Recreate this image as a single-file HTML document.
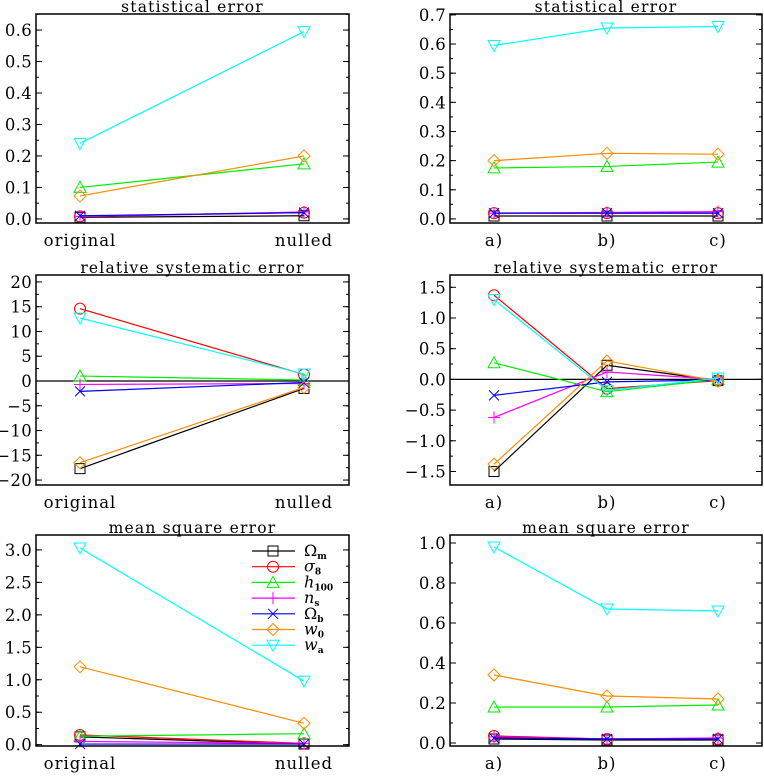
<!DOCTYPE html>
<html><head><meta charset="utf-8"><style>
body{margin:0;background:#fff;}
svg text{font-family:"DejaVu Serif","Liberation Serif",serif;fill:#000;}
</style></head><body>
<svg id="c" width="764" height="774" xmlns="http://www.w3.org/2000/svg"></svg>
<script>
const NS="http://www.w3.org/2000/svg";
const svg=document.getElementById('c');
const seriesNames=['Om','s8','h100','ns','Ob','w0','wa'];
const colors=['#000000','#ff0000','#00ee00','#ff00ff','#0000ff','#ff8c00','#00ffff'];
const markers=['square','circle','triangle','plus','cross','diamond','tri-down'];
const catsLeft=['original','nulled'];
const catsRight=['a)','b)','c)'];
const statL_Om=[0.005,0.01],statL_s8=[0.008,0.02],statL_h=[0.10,0.175],statL_ns=[0.008,0.022],statL_Ob=[0.01,0.02],statL_w0=[0.073,0.2],statL_wa=[0.24,0.595];
const statR_Om=[0.01,0.01,0.01],statR_s8=[0.02,0.02,0.02],statR_h=[0.175,0.18,0.195],statR_ns=[0.02,0.022,0.025],statR_Ob=[0.02,0.02,0.02],statR_w0=[0.2,0.225,0.222],statR_wa=[0.595,0.655,0.66];
const sysL_Om=[-17.7,-1.5],sysL_s8=[14.6,1.3],sysL_h=[1.0,0.2],sysL_ns=[-0.7,-0.5],sysL_Ob=[-2.1,-0.3],sysL_w0=[-16.5,-1.3],sysL_wa=[12.7,1.4];
const sysR_Om=[-1.5,0.23,-0.02],sysR_s8=[1.37,-0.15,-0.02],sysR_h=[0.27,-0.2,0],sysR_ns=[-0.62,0.12,0],sysR_Ob=[-0.26,-0.04,-0.01],sysR_w0=[-1.38,0.3,-0.03],sysR_wa=[1.3,-0.18,0.02];
const mseL_Om=[0.12,0.01],mseL_s8=[0.15,0.02],mseL_h=[0.13,0.17],mseL_ns=[0.05,0.02],mseL_Ob=[0.01,0.01],mseL_w0=[1.2,0.33],mseL_wa=[3.03,0.98];
const mseR_Om=[0.02,0.015,0.015],mseR_s8=[0.035,0.02,0.02],mseR_h=[0.18,0.18,0.19],mseR_ns=[0.03,0.02,0.025],mseR_Ob=[0.025,0.02,0.02],mseR_w0=[0.34,0.235,0.22],mseR_wa=[0.98,0.67,0.66];
const ticksStat=['0.0','0.1','0.2','0.3','0.4','0.5','0.6'];
const ticksStatR=['0.0','0.1','0.2','0.3','0.4','0.5','0.6','0.7'];
const ticksSysL=['−20','−15','−10','−5','0','5','10','15','20'];
const ticksSysR=['−1.5','−1.0','−0.5','0.0','0.5','1.0','1.5'];
const ticksMseL=['0.0','0.5','1.0','1.5','2.0','2.5','3.0'];
const ticksMseR=['0.0','0.2','0.4','0.6','0.8','1.0'];

function el(t,a,p){const e=document.createElementNS(NS,t);for(const k in a)e.setAttribute(k,a[k]);(p||svg).appendChild(e);return e;}
function marker(g,type,x,y,col){
  const s=5;let e;
  if(type==='square')e=el('rect',{x:x-s,y:y-s,width:2*s,height:2*s,fill:'none',stroke:col},g);
  else if(type==='circle')e=el('circle',{cx:x,cy:y,r:s+0.5,fill:'none',stroke:col},g);
  else if(type==='triangle')e=el('polygon',{points:`${x-s-1},${y+s} ${x+s+1},${y+s} ${x},${y-s-1}`,fill:'none',stroke:col},g);
  else if(type==='tri-down')e=el('polygon',{points:`${x-s-1},${y-s} ${x+s+1},${y-s} ${x},${y+s+1}`,fill:'none',stroke:col},g);
  else if(type==='diamond')e=el('polygon',{points:`${x},${y-s-1} ${x+s+1},${y} ${x},${y+s+1} ${x-s-1},${y}`,fill:'none',stroke:col},g);
  else if(type==='plus')e=el('path',{d:`M${x-s-1},${y}H${x+s+1}M${x},${y-s-1}V${y+s+1}`,stroke:col,fill:'none'},g);
  else e=el('path',{d:`M${x-s},${y-s}L${x+s},${y+s}M${x-s},${y+s}L${x+s},${y-s}`,stroke:col,fill:'none'},g);
  
  
}
function panel(o){
  const g=el('g',{});
  
  
  const yS=v=>o.y0-(o.y0-o.y1)*(v-o.vmin)/(o.vmax-o.vmin);
  const xS=i=>o.xpos[i];
  const t=el('text',{x:(o.x0+o.x1)/2,y:o.y1-2,'text-anchor':'middle','font-size':15.5,'letter-spacing':'1.2'},g);
  t.textContent=o.title;
  
  
  o.ticks.forEach(lbl=>{
    const v=parseFloat(lbl.replace('−','-'));const y=yS(v);
    el('line',{x1:o.x0,x2:o.x0+6,y1:y,y2:y,stroke:'#000'},g);
    el('line',{x1:o.x1,x2:o.x1-6,y1:y,y2:y,stroke:'#000'},g);
    const tx=el('text',{x:o.x0-4,y:y+6,'text-anchor':'end','font-size':16.5,'letter-spacing':'0.3'},g);
    tx.textContent=lbl;
    
    
  });
  for(let v=o.vmin0;v<=o.vmax0+1e-9;v+=o.minor){const y=yS(v);
    el('line',{x1:o.x0,x2:o.x0+3,y1:y,y2:y,stroke:'#000'},g);
    el('line',{x1:o.x1,x2:o.x1-3,y1:y,y2:y,stroke:'#000'},g);}
  if(o.zero) el('line',{x1:o.x0,x2:o.x1,y1:yS(0),y2:yS(0),stroke:'#000','stroke-width':1.2},g);
  o.cats.forEach((c,i)=>{const tx=el('text',{x:xS(i),y:o.y0+23,'text-anchor':'middle','font-size':16.5,'letter-spacing':'1'},g);
    tx.textContent=c;
    
    });
  o.data.forEach((arr,si)=>{
    const pts=arr.map((v,i)=>xS(i)+','+yS(v)).join(' ');
    const pl=el('polyline',{points:pts,fill:'none',stroke:colors[si],'stroke-width':1.2},g);
    
    
    arr.forEach((v,i)=>marker(g,markers[si],xS(i),yS(v),colors[si]));
  });
  const fr=el('rect',{x:o.x0,y:o.y1,width:o.x1-o.x0,height:o.y0-o.y1,fill:'none',stroke:'#000','stroke-width':1.5},g);
  
  
}
const L={x0:36,x1:349,xpos:[80,304],cats:catsLeft};
const R={x0:450,x1:762,xpos:[494,607,718],cats:catsRight};
panel({...L,name:'panel-stat-left',title:'statistical error',y1:14,y0:223,vmin:-0.013,vmax:0.651,vmin0:0,vmax0:0.65,minor:0.05,ticks:ticksStat,data:[statL_Om,statL_s8,statL_h,statL_ns,statL_Ob,statL_w0,statL_wa]});
panel({...R,name:'panel-stat-right',title:'statistical error',y1:14,y0:223,vmin:-0.014,vmax:0.703,vmin0:0,vmax0:0.7,minor:0.05,ticks:ticksStatR,data:[statR_Om,statR_s8,statR_h,statR_ns,statR_Ob,statR_w0,statR_wa]});
panel({...L,name:'panel-sys-left',title:'relative systematic error',y1:275,y0:485,vmin:-21.0,vmax:21.4,vmin0:-20,vmax0:20,minor:2.5,ticks:ticksSysL,zero:true,data:[sysL_Om,sysL_s8,sysL_h,sysL_ns,sysL_Ob,sysL_w0,sysL_wa]});
panel({...R,name:'panel-sys-right',title:'relative systematic error',y1:275,y0:485,vmin:-1.72,vmax:1.70,vmin0:-1.5,vmax0:1.5,minor:0.25,ticks:ticksSysR,zero:true,data:[sysR_Om,sysR_s8,sysR_h,sysR_ns,sysR_Ob,sysR_w0,sysR_wa]});
panel({...L,name:'panel-mse-left',title:'mean square error',y1:535,y0:746,vmin:-0.02,vmax:3.23,vmin0:0,vmax0:3.0,minor:0.25,ticks:ticksMseL,data:[mseL_Om,mseL_s8,mseL_h,mseL_ns,mseL_Ob,mseL_w0,mseL_wa]});
panel({...R,name:'panel-mse-right',title:'mean square error',y1:535,y0:746,vmin:-0.015,vmax:1.04,vmin0:0,vmax0:1.0,minor:0.1,ticks:ticksMseR,data:[mseR_Om,mseR_s8,mseR_h,mseR_ns,mseR_Ob,mseR_w0,mseR_wa]});
const legendLabels=[['Ω','m'],['σ','8'],['h','100'],['n','s'],['Ω','b'],['w','0'],['w','a']];
const lg=el('g',{});


legendLabels.forEach((lb,i)=>{
  const y=551+i*15.7;
  const ent=el('g',{},lg);
  
  
  el('line',{x1:252,x2:295,y1:y,y2:y,stroke:colors[i],'stroke-width':1.2},ent);
  marker(ent,markers[i],273,y,colors[i]);
  const t=el('text',{x:304,y:y+5,'font-size':16,'font-style':(lb[0]==='Ω'?'normal':'italic')},ent);
  t.textContent=lb[0];
  const s=el('tspan',{dy:3,'font-size':9,'font-style':'normal','font-weight':'bold'},t);
  s.textContent=lb[1];
});
</script>
</body></html>
